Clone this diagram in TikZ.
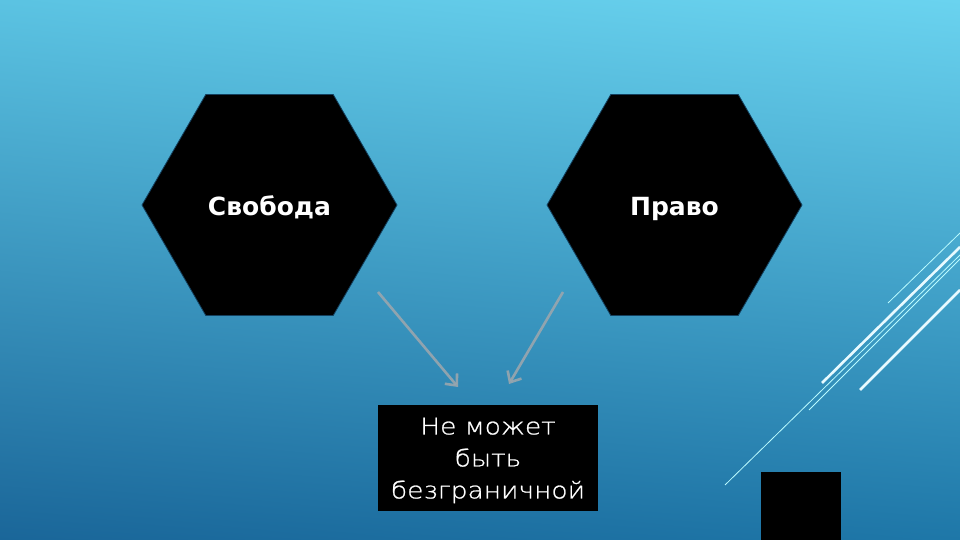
\documentclass[tikz,border=0pt]{standalone}
\usepackage{fontspec}
\setmainfont{DejaVu Sans}
\newfontfamily\lightfont{DejaVu Sans ExtraLight}[FakeStretch=1.15,FakeBold=1]
\usetikzlibrary{shapes.geometric,arrows.meta,calc,shadings}
\definecolor{bgTL}{HTML}{5BC3E2}
\definecolor{bgTR}{HTML}{6AD3EF}
\definecolor{bgBL}{HTML}{1A6699}
\definecolor{bgBR}{HTML}{1E77A8}
\definecolor{hexedge}{HTML}{14405E}
\definecolor{arrowgray}{HTML}{9AA6AE}
\definecolor{deco}{HTML}{E8FAFF}
\tikzset{
  hexnode/.style={regular polygon, regular polygon sides=6, minimum size=255pt,
    inner sep=0pt, fill=black, draw=hexedge, line width=0.8pt, text=white,
    text height=20pt, text depth=0pt,
    font=\bfseries\fontsize{25}{30}\selectfont},
  boxnode/.style={rectangle, fill=black, minimum width=220pt, minimum height=106pt,
    inner sep=0pt, text=white, align=center, text depth=0pt,
    font=\lightfont\fontsize{23}{32}\selectfont},
  grayarrow/.style={draw=arrowgray, line width=2.6pt, opacity=0.9,
    -{Straight Barb[length=9pt,width=16pt,line width=2.6pt]}},
  thickdeco/.style={draw=deco, line width=2.6pt},
  thindeco/.style={draw=deco!80!cyan, line width=0.8pt},
}
\begin{document}
\begin{tikzpicture}[x=1pt,y=-1pt]
\shade[upper left=bgTL, upper right=bgTR, lower left=bgBL, lower right=bgBR]
  (0,0) rectangle (960,540);
\useasboundingbox (0,0) rectangle (960,540);

\node[hexnode] (svoboda) at (269.5,205) {Свобода};
\node[hexnode] (pravo) at (674.5,205) {Право};
\node[boxnode] (limit) at (488,458) {Не может\\быть\\безграничной};

\coordinate (s1) at (378,292);
\coordinate (e1) at (458,387);
\coordinate (s2) at (563,292);
\coordinate (e2) at (509,384);
\draw[grayarrow] (s1) -- (e1);
\draw[grayarrow] (s2) -- (e2);

% decorative lines
\coordinate (d1a) at (725,485); \coordinate (d1b) at (960,255);
\coordinate (d2a) at (888,303); \coordinate (d2b) at (960,233);
\coordinate (d3a) at (809,410); \coordinate (d3b) at (960,259);
\coordinate (d4a) at (822,383); \coordinate (d4b) at (960,247);
\coordinate (d5a) at (860,390); \coordinate (d5b) at (960,290);
\draw[thindeco] (d1a) -- (d1b);
\draw[thindeco] (d2a) -- (d2b);
\draw[thindeco] (d3a) -- (d3b);
\draw[thickdeco] (d4a) -- (d4b);
\draw[thickdeco] (d5a) -- (d5b);

\node[rectangle, fill=black, minimum width=80pt, minimum height=68pt, inner sep=0pt]
  (sq) at (801,506) {};
\end{tikzpicture}
\end{document}
